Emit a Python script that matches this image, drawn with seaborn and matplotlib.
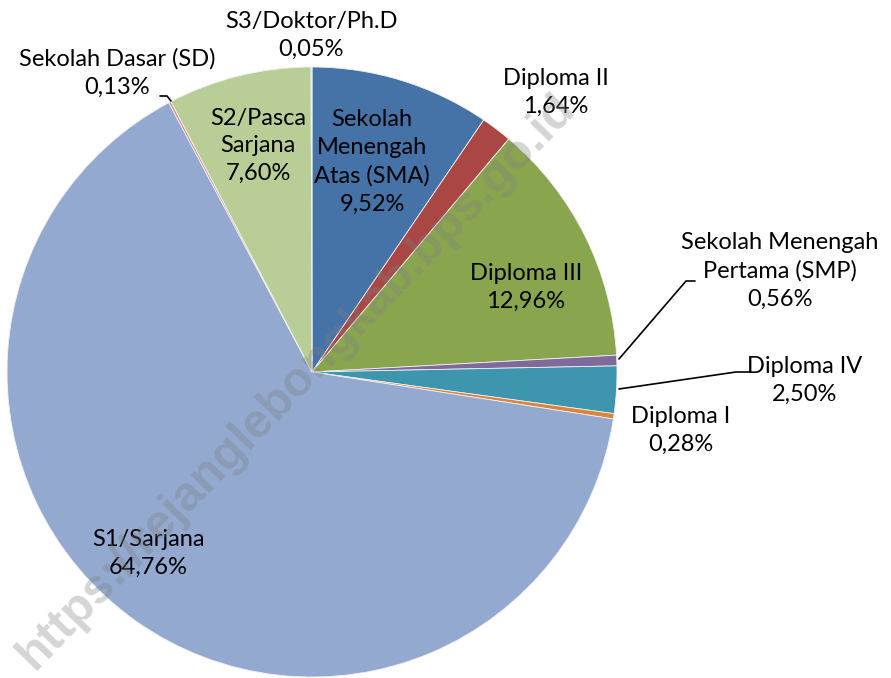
import matplotlib
matplotlib.use("Agg")
import matplotlib.pyplot as plt
import seaborn as sns

# ---- data ----
categories = ["Sekolah Menengah Atas (SMA)", "Diploma II", "Diploma III",
              "Sekolah Menengah Pertama (SMP)", "Diploma IV", "Diploma I",
              "S1/Sarjana", "Sekolah Dasar (SD)", "S2/Pasca Sarjana", "S3/Doktor/Ph.D"]
values = [9.52, 1.64, 12.96, 0.56, 2.50, 0.28, 64.76, 0.13, 7.60, 0.05]
label_texts = ["Sekolah\nMenengah\nAtas (SMA)", "Diploma II", "Diploma III",
               "Sekolah Menengah\nPertama (SMP)", "Diploma IV", "Diploma I",
               "S1/Sarjana", "Sekolah Dasar (SD)", "S2/Pasca\nSarjana", "S3/Doktor/Ph.D"]
colors = ["#4572A7", "#AA4643", "#89A54E", "#80699B", "#3D96AE", "#DB843D",
          "#93A9CF", "#D19392", "#B9CD96", "#A99BBD"]

sns.set_theme(style="white")
plt.rcParams['font.family'] = ['Lato', 'DejaVu Sans']

W, H = 891, 678
CX, CY, R = 312, 372, 305

fig = plt.figure(figsize=(W / 100, H / 100), dpi=100)
ax = fig.add_axes([0, 0, 1, 1])

wedges, _ = ax.pie(values, colors=colors, startangle=90, counterclock=False,
                   radius=1.0, wedgeprops=dict(edgecolor='#f0f0f0', linewidth=0.6))
ax.set_xlim(-CX / R, (W - CX) / R)
ax.set_ylim((CY - H) / R, CY / R)
ax.set_aspect('equal')
ax.axis('off')


def P(px, py):
    return ((px - CX) / R, (CY - py) / R)


# label centre positions in pixel coordinates
label_pos = [(372, 162), (556, 92), (526, 287), (780, 271), (805, 380),
             (681, 430), (148, 553), (117, 73), (258, 146), (311, 35)]

for txt, val, pos in zip(label_texts, values, label_pos):
    pct = f"{val:.2f}%".replace(".", ",")
    ax.text(*P(*pos), f"{txt}\n{pct}", ha='center', va='center', fontsize=17,
            linespacing=1.4, color='black', zorder=5)

# leader lines
leaders = [
    [(619, 359), (686, 281), (695, 281)],   # SMP
    [(619, 389), (736, 372), (750, 372)],   # Diploma IV
    [(171, 101), (167, 96), (160, 96)],     # SD
]
for pts in leaders:
    xs, ys = zip(*[P(*p) for p in pts])
    ax.plot(xs, ys, color='black', lw=1.2, zorder=5)

# watermark
ax.text(*P(297, 382), "https://rejanglebongkab.bps.go.id", rotation=46,
        ha='center', va='center', fontsize=35, fontweight='bold',
        family=['Liberation Sans', 'DejaVu Sans'], color='#808080', alpha=0.33,
        zorder=6, rotation_mode='anchor')

fig.savefig("out.png", dpi=100)
